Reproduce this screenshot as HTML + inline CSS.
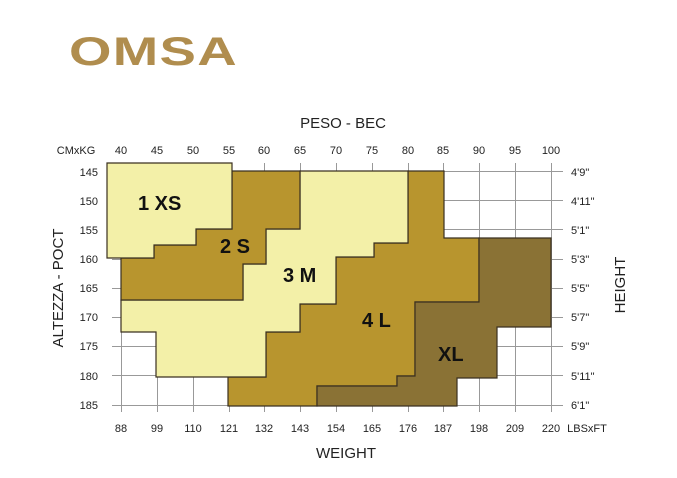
<!DOCTYPE html>
<html><head><meta charset="utf-8"><style>
body{margin:0;background:#fff}
svg{display:block;font-family:"Liberation Sans",Arial,sans-serif}
</style></head><body>
<svg width="677" height="478" viewBox="0 0 677 478">
<text x="0" y="0" transform="translate(69,65) scale(1.3,0.95)" font-size="42" font-weight="bold" fill="#b08d4e" letter-spacing="1">OMSA</text>
<g stroke="#999" stroke-width="1" fill="none">
<path d="M121.5 163V412M157.5 163V412M193.5 163V412M229.5 163V412M264.5 163V412M300.5 163V412M336.5 163V412M372.5 163V412M408.5 163V412M443.5 163V412M479.5 163V412M515.5 163V412M551.5 163V412"/>
<path d="M112 171.5H563M112 200.5H563M112 229.5H563M112 259.5H563M112 288.5H563M112 317.5H563M112 346.5H563M112 375.5H563M112 405.5H563"/>
</g>
<g stroke="#3a3020" stroke-width="1.2" stroke-linejoin="miter">
<polygon fill="#b8952e" points="408,171 444,171 444,238 479,238 479,302 415,302 415,376 397,376 397,386 317,386 317,406 228,406 228,377 266,377 266,332 300,332 300,304 336,304 336,257 374,257 374,243 408,243"/>
<polygon fill="#8a7235" points="479,238 551,238 551,327 497,327 497,378 457,378 457,406 317,406 317,386 397,386 397,376 415,376 415,302 479,302"/>
<polygon fill="#f3f0a8" points="300,171 408,171 408,243 374,243 374,257 336,257 336,304 300,304 300,332 266,332 266,377 156,377 156,332 121,332 121,300 243,300 243,264 266,264 266,229 300,229"/>
<polygon fill="#b8952e" points="232,171 300,171 300,229 266,229 266,264 243,264 243,300 121,300 121,258 154,258 154,245 196,245 196,229 232,229"/>
<polygon fill="#f3f0a8" points="107,163 232,163 232,229 196,229 196,245 154,245 154,258 107,258"/>
</g>
<g font-weight="bold" font-size="20" fill="#111">
<text x="138" y="210">1 XS</text>
<text x="220" y="253">2 S</text>
<text x="283" y="282">3 M</text>
<text x="362" y="327">4 L</text>
<text x="438" y="361">XL</text>
</g>
<g font-size="11" fill="#222" text-anchor="middle">
<text x="76" y="154">CMxKG</text>
<text x="121" y="154">40</text><text x="157" y="154">45</text><text x="193" y="154">50</text><text x="229" y="154">55</text><text x="264" y="154">60</text><text x="300" y="154">65</text><text x="336" y="154">70</text><text x="372" y="154">75</text><text x="408" y="154">80</text><text x="443" y="154">85</text><text x="479" y="154">90</text><text x="515" y="154">95</text><text x="551" y="154">100</text>
<text x="121" y="432">88</text><text x="157" y="432">99</text><text x="193" y="432">110</text><text x="229" y="432">121</text><text x="264" y="432">132</text><text x="300" y="432">143</text><text x="336" y="432">154</text><text x="372" y="432">165</text><text x="408" y="432">176</text><text x="443" y="432">187</text><text x="479" y="432">198</text><text x="515" y="432">209</text><text x="551" y="432">220</text>
<text x="587" y="432">LBSxFT</text>
</g>
<g font-size="11" fill="#222" text-anchor="end">
<text x="98" y="176">145</text><text x="98" y="205">150</text><text x="98" y="234">155</text><text x="98" y="263">160</text><text x="98" y="292">165</text><text x="98" y="321">170</text><text x="98" y="350">175</text><text x="98" y="380">180</text><text x="98" y="409">185</text>
</g>
<g font-size="11" fill="#222">
<text x="571" y="176">4'9"</text><text x="571" y="205">4'11"</text><text x="571" y="234">5'1"</text><text x="571" y="263">5'3"</text><text x="571" y="292">5'5"</text><text x="571" y="321">5'7"</text><text x="571" y="350">5'9"</text><text x="571" y="380">5'11"</text><text x="571" y="409">6'1"</text>
</g>
<g font-size="15" fill="#222" text-anchor="middle">
<text x="343" y="128">PESO - BEC</text>
<text x="346" y="458">WEIGHT</text>
<text transform="translate(63,288) rotate(-90)">ALTEZZA - POCT</text>
<text transform="translate(625,285) rotate(-90)">HEIGHT</text>
</g>
</svg>
</body></html>
